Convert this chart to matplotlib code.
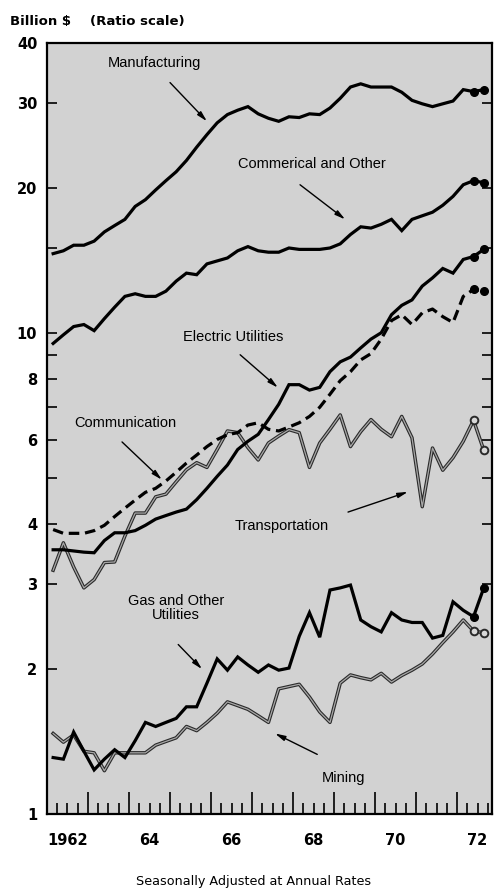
import matplotlib
matplotlib.use("Agg")
import matplotlib.pyplot as plt
import matplotlib.transforms as mtransforms
from matplotlib.ticker import FixedLocator, FuncFormatter, MultipleLocator
import numpy as np

# quarterly data, 1962 Q1 .. 1972 Q3 (last two quarters = anticipated)
n_q = 43
quarters = 1962 + 0.15 + 0.25 * np.arange(n_q)

manufacturing = [14.6, 14.8, 15.2, 15.2, 15.5, 16.2, 16.7, 17.2, 18.3, 18.9,
                 19.8, 20.7, 21.6, 22.8, 24.3, 25.8, 27.3, 28.4, 29.0, 29.5,
                 28.5, 27.9, 27.5, 28.1, 28.0, 28.5, 28.4, 29.3, 30.7, 32.4,
                 32.9, 32.4, 32.4, 32.4, 31.6, 30.4, 29.9, 29.5, 29.9, 30.3,
                 32.0, 31.7, 32.0]
commercial = [9.5, 9.9, 10.3, 10.4, 10.1, 10.7, 11.3, 11.9, 12.05, 11.9,
              11.9, 12.2, 12.8, 13.3, 13.2, 13.9, 14.1, 14.3, 14.8, 15.1,
              14.8, 14.7, 14.7, 15.0, 14.9, 14.9, 14.9, 15.0, 15.3, 16.0,
              16.6, 16.5, 16.8, 17.2, 16.3, 17.2, 17.5, 17.8, 18.4, 19.2,
              20.3, 20.7, 20.5]
electric = [3.54, 3.54, 3.52, 3.5, 3.49, 3.7, 3.84, 3.84, 3.88, 3.98,
            4.1, 4.17, 4.24, 4.3, 4.5, 4.75, 5.03, 5.31, 5.72, 5.95,
            6.15, 6.6, 7.1, 7.8, 7.8, 7.6, 7.7, 8.3, 8.7, 8.9,
            9.3, 9.7, 10.0, 10.9, 11.4, 11.7, 12.5, 13.0, 13.6, 13.3,
            14.2, 14.4, 14.9]
communication = [3.9, 3.83, 3.83, 3.83, 3.88, 3.98, 4.15, 4.32, 4.49, 4.66,
                 4.75, 4.92, 5.13, 5.36, 5.57, 5.8, 6.0, 6.14, 6.2, 6.43,
                 6.5, 6.3, 6.25, 6.37, 6.5, 6.7, 7.0, 7.45, 7.95, 8.3,
                 8.78, 9.05, 9.7, 10.6, 10.9, 10.4, 11.0, 11.2, 10.8, 10.5,
                 11.9, 12.3, 12.2]
transportation = [3.21, 3.66, 3.26, 2.95, 3.07, 3.33, 3.34, 3.78, 4.22, 4.22,
                  4.56, 4.62, 4.9, 5.19, 5.37, 5.25, 5.72, 6.25, 6.2, 5.77,
                  5.44, 5.9, 6.1, 6.29, 6.2, 5.25, 5.9, 6.3, 6.75, 5.8,
                  6.23, 6.6, 6.3, 6.08, 6.7, 6.05, 4.35, 5.76, 5.18, 5.5,
                  5.95, 6.58, 5.7]
gas_utilities = [1.31, 1.30, 1.48, 1.35, 1.235, 1.30, 1.36, 1.31, 1.42, 1.55,
                 1.52, 1.55, 1.58, 1.67, 1.67, 1.87, 2.1, 1.99, 2.12, 2.04,
                 1.97, 2.04, 1.99, 2.01, 2.34, 2.62, 2.33, 2.92, 2.95, 2.99,
                 2.53, 2.45, 2.39, 2.62, 2.53, 2.5, 2.5, 2.32, 2.35, 2.76,
                 2.65, 2.57, 2.95]
mining = [1.47, 1.41, 1.46, 1.35, 1.34, 1.23, 1.34, 1.34, 1.34, 1.34,
          1.39, 1.415, 1.44, 1.52, 1.49, 1.55, 1.62, 1.71, 1.68, 1.65,
          1.60, 1.55, 1.82, 1.84, 1.86, 1.75, 1.63, 1.55, 1.87, 1.945,
          1.92, 1.90, 1.96, 1.88, 1.94, 1.99, 2.05, 2.15, 2.27, 2.39,
          2.53, 2.40, 2.38]

y_ticks = [1, 2, 3, 4, 5, 6, 7, 8, 9, 10, 15, 20, 30, 40]
y_labels = {1: "1", 2: "2", 3: "3", 4: "4", 6: "6", 8: "8", 10: "10",
            20: "20", 30: "30", 40: "40"}
year_labels = ["1962", "64", "66", "68", "70", "72"]
year_label_pos = [1962.5, 1964.5, 1966.5, 1968.5, 1970.5, 1972.5]

INK = "black"
BG = "#d2d2d2"
NARROW = ["Liberation Sans", "DejaVu Sans"]

fig = plt.figure(figsize=(4.94, 8.9), dpi=100)
ax = fig.add_axes([0.0951, 0.0854, 0.9008, 0.8663])
ax.set_facecolor(BG)
ax.set_yscale("log")
ax.set_ylim(1, 40)
ax.set_xlim(1962, 1972.85)

# ── series ─────────────────────────────────────────────────────────
for ys in (manufacturing, commercial, electric, gas_utilities):
    ax.plot(quarters, ys, color=INK, lw=2.3, solid_joinstyle="miter", zorder=4)
    ax.plot(quarters[-2:], ys[-2:], "o", color=INK, ms=5.5, zorder=5)

ax.plot(quarters, communication, color=INK, lw=2.3, dashes=(3.3, 1.8), zorder=4)
ax.plot(quarters[-2:], communication[-2:], "o", color=INK, ms=5.5, zorder=5)

for ys in (transportation, mining):
    ax.plot(quarters, ys, color="#2a2a2a", lw=2.5, zorder=3)
    ax.plot(quarters, ys, color="#a8a8a8", lw=0.9, zorder=3)
    ax.plot(quarters[-2:], ys[-2:], "o", ms=5.5, mfc="#d8d8d8", mec="#2a2a2a",
            mew=1.4, zorder=5)

# ── axes, ticks ────────────────────────────────────────────────────
for s in ax.spines.values():
    s.set_linewidth(1.6)
    s.set_color(INK)

ax.yaxis.set_major_locator(FixedLocator(y_ticks))
ax.yaxis.set_major_formatter(FuncFormatter(lambda v, p: y_labels.get(int(round(v)), "")))
ax.yaxis.set_minor_locator(FixedLocator([]))
ax.tick_params(axis="y", which="major", direction="in", length=7, width=1.2,
               left=True, right=True, labelsize=10.5, pad=7)
for lbl in ax.get_yticklabels():
    lbl.set_fontweight("bold")

ax.xaxis.set_major_locator(MultipleLocator(1))
ax.xaxis.set_minor_locator(MultipleLocator(0.25))
ax.tick_params(axis="x", which="major", direction="in", length=16, width=1.2,
               labelbottom=False)
ax.tick_params(axis="x", which="minor", direction="in", length=8, width=1.2)

trans = mtransforms.blended_transform_factory(ax.transData, ax.transAxes)
for x, lab in zip(year_label_pos, year_labels):
    ax.text(x, -0.034, lab, transform=trans, ha="center", va="center",
            fontsize=10.5, fontweight="bold")

# ── labels with arrows ─────────────────────────────────────────────
arrow = dict(arrowstyle="-|>,head_length=0.6,head_width=0.15", lw=1.0,
             color=INK, shrinkA=0, shrinkB=0)
notes = [
    ("Manufacturing", (1964.63, 36.4), (1965.0, 33.1), (1965.9, 27.5)),
    ("Commerical and Other", (1968.46, 22.4), (1968.17, 20.3), (1969.27, 17.2)),
    ("Electric Utilities", (1966.54, 9.81), (1966.71, 9.0), (1967.63, 7.69)),
    ("Communication", (1963.9, 6.5), (1963.83, 5.93), (1964.8, 4.95)),
    ("Transportation", (1967.73, 3.97), (1969.34, 4.24), (1970.8, 4.67)),
    ("Gas and Other\nUtilities", (1965.15, 2.68), (1965.2, 2.25), (1965.78, 2.0)),
    ("Mining", (1969.24, 1.19), (1968.59, 1.33), (1967.56, 1.47)),
]
for text, tpos, a0, a1 in notes:
    ax.text(*tpos, text, ha="center", va="center", fontsize=10.5,
            family=NARROW, linespacing=1.05, zorder=6)
    ax.annotate("", xy=a1, xytext=a0, arrowprops=arrow, zorder=6)

# ── headings ───────────────────────────────────────────────────────
fig.text(10 / 494, 1 - 21 / 890, "Billion $", fontsize=9.5, fontweight="bold",
         ha="left", va="center")
fig.text(90 / 494, 1 - 21 / 890, "(Ratio scale)", fontsize=9.5, fontweight="bold",
         ha="left", va="center")
fig.text(254 / 494, 1 - 882 / 890, "Seasonally Adjusted at Annual Rates",
         fontsize=9.2, ha="center", va="center")

fig.savefig("out.png", dpi=100, facecolor="white")
